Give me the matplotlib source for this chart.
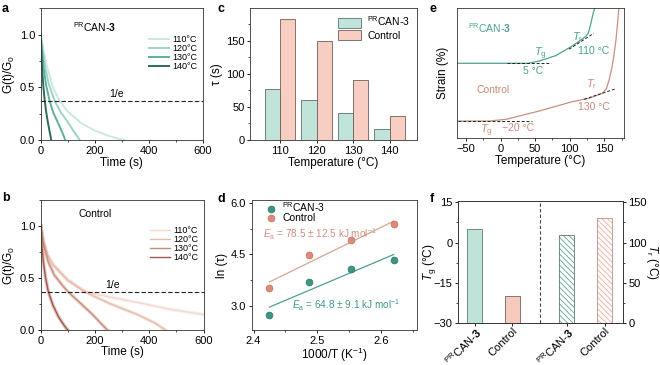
import numpy as np
import matplotlib
matplotlib.use('Agg')
import matplotlib.pyplot as plt
from matplotlib.ticker import MultipleLocator

plt.rcParams['font.family'] = ['Liberation Sans', 'DejaVu Sans']
plt.rcParams['mathtext.fontset'] = 'custom'
plt.rcParams['mathtext.rm'] = 'Liberation Sans'
plt.rcParams['mathtext.it'] = 'Liberation Sans:italic'
plt.rcParams['mathtext.bf'] = 'Liberation Sans:bold'
plt.rcParams['font.size'] = 8
plt.rcParams['hatch.linewidth'] = 0.6

# ---- data ----
temp_labels = ['110', '120', '130', '140']

# a: PRCAN-3 stress relaxation
a_t110 = [0, 10, 25, 45, 70, 100, 150, 200, 250, 290, 310]
a_g110 = [1.0, 0.85, 0.68, 0.50, 0.37, 0.27, 0.16, 0.09, 0.04, 0.01, 0.0]
a_t120 = [0, 8, 17, 30, 52, 75, 99, 120, 144]
a_g120 = [1.0, 0.84, 0.68, 0.53, 0.37, 0.26, 0.175, 0.09, 0.0]
a_t130 = [0, 5, 11, 20, 33, 45, 66, 80, 91]
a_g130 = [1.0, 0.84, 0.68, 0.52, 0.37, 0.27, 0.15, 0.07, 0.0]
a_t140 = [0, 2, 5, 10, 15, 20, 27, 33, 39]
a_g140 = [1.0, 0.86, 0.68, 0.50, 0.37, 0.27, 0.16, 0.08, 0.0]

# b: Control stress relaxation
b_t110 = [0, 10, 25, 45, 100, 167, 250, 356, 478, 600]
b_g110 = [1.0, 0.85, 0.72, 0.63, 0.48, 0.37, 0.32, 0.267, 0.20, 0.15]
b_t120 = [0, 10, 25, 45, 100, 161, 250, 356, 420, 460]
b_g120 = [1.0, 0.85, 0.72, 0.63, 0.48, 0.37, 0.26, 0.15, 0.07, 0.0]
b_t130 = [0, 10, 27, 50, 80, 100, 150, 191, 220, 246]
b_g130 = [1.0, 0.83, 0.66, 0.53, 0.43, 0.37, 0.25, 0.15, 0.07, 0.0]
b_t140 = [0, 4, 10, 18, 28, 45, 65, 85, 100]
b_g140 = [1.0, 0.82, 0.65, 0.50, 0.37, 0.24, 0.13, 0.05, 0.0]

# c: relaxation times
tau_pr = [77, 60, 41, 16]
tau_ctrl = [183, 150, 91, 36]

# d: Arrhenius
inv_T = [2.425, 2.487, 2.553, 2.620]
ln_tau_pr = [2.75, 3.70, 4.07, 4.33]
ln_tau_ctrl = [3.52, 4.48, 4.93, 5.38]
fit_x = [2.425, 2.620]
fit_pr = [2.97, 4.50]
fit_ctrl = [3.70, 5.47]

# e: strain vs temperature (arbitrary units)
e_T_pr = [-62, 40, 56, 80, 102, 112, 123, 127, 130, 133, 136]
e_s_pr = [57.7, 57.7, 59.5, 63.6, 70.5, 74.0, 78.2, 81.0, 87.0, 94.0, 100.0]
e_T_ctrl = [-62, -16, 8, 56, 104, 128, 147, 153, 157, 161, 164, 167, 169, 171]
e_s_ctrl = [13.3, 13.3, 14.6, 21.0, 28.2, 30.8, 34.6, 38.0, 44.9, 54.0, 64.1, 76.0, 87.2, 100.0]

# f: Tg / Tr
tg_vals = [5, -20]
tr_vals = [110, 130]
f_labels = [r'$^{\mathrm{PR}}$CAN-$\mathbf{3}$', 'Control',
            r'$^{\mathrm{PR}}$CAN-$\mathbf{3}$', 'Control']

teal = ['#cde8e1', '#9dd3c5', '#5db19e', '#2d6b5d']
pink = ['#f3dad1', '#e8bcac', '#c98c7d', '#a05a4f']
PR = r'$^{\mathrm{PR}}$CAN-$\mathbf{3}$'
PR_plain = r'$^{\mathrm{PR}}$CAN-3'


def style(ax):
    ax.tick_params(direction='out', length=2.5, width=0.6, labelsize=8, pad=1.5)
    ax.tick_params(which='minor', direction='out', length=1.5, width=0.5)
    for s in ax.spines.values():
        s.set_linewidth(0.6)
        s.set_color('#333333')


fig = plt.figure(figsize=(6.6, 3.65), dpi=100)

# ---- a ----
ax = fig.add_axes([0.0617, 0.6164, 0.2459, 0.3608])
curves = [(a_t110, a_g110), (a_t120, a_g120), (a_t130, a_g130), (a_t140, a_g140)]
for (t, g), c, lab in zip(curves, teal, temp_labels):
    ax.plot(t, g, color=c, lw=1.4, label=lab + '°C')
ax.axhline(1 / np.e, color='#222222', lw=0.8, ls=(0, (4, 2)))
ax.text(281, 0.39, '1/e', ha='center', va='bottom', fontsize=7.5)
ax.text(201, 1.075, PR, ha='center', va='center', fontsize=7.5)
ax.set_xlim(0, 600)
ax.set_ylim(0, 1.25)
ax.xaxis.set_major_locator(MultipleLocator(200))
ax.xaxis.set_minor_locator(MultipleLocator(100))
ax.yaxis.set_major_locator(MultipleLocator(0.5))
ax.yaxis.set_minor_locator(MultipleLocator(0.25))
ax.set_xlabel('Time (s)', fontsize=8.5, labelpad=1)
ax.set_ylabel('G(t)/G$_0$', fontsize=8.5, labelpad=2)
ax.legend(loc='upper right', bbox_to_anchor=(1.0, 0.84), frameon=False, fontsize=6.5,
          handlelength=2.2, labelspacing=0.0, handletextpad=0.4, borderaxespad=0.2)
style(ax)

# ---- b ----
ax = fig.add_axes([0.0617, 0.0955, 0.2467, 0.3562])
curves = [(b_t110, b_g110), (b_t120, b_g120), (b_t130, b_g130), (b_t140, b_g140)]
for (t, g), c, lab in zip(curves, pink, temp_labels):
    ax.plot(t, g, color=c, lw=2.6, alpha=0.35)
    ax.plot(t, g, color=c, lw=1.0, label=lab + '°C')
ax.axhline(1 / np.e, color='#222222', lw=0.8, ls=(0, (4, 2)))
ax.text(265, 0.39, '1/e', ha='center', va='bottom', fontsize=7.5)
ax.text(201, 1.12, 'Control', ha='center', va='center', fontsize=7.5)
ax.set_xlim(0, 600)
ax.set_ylim(0, 1.25)
ax.xaxis.set_major_locator(MultipleLocator(200))
ax.xaxis.set_minor_locator(MultipleLocator(100))
ax.yaxis.set_major_locator(MultipleLocator(0.5))
ax.yaxis.set_minor_locator(MultipleLocator(0.25))
ax.set_xlabel('Time (s)', fontsize=8.5, labelpad=0)
ax.set_ylabel('G(t)/G$_0$', fontsize=8.5, labelpad=2)
ax.legend(loc='upper right', bbox_to_anchor=(1.0, 0.84), frameon=False, fontsize=6.5,
          handlelength=2.2, labelspacing=0.0, handletextpad=0.4, borderaxespad=0.2)
style(ax)

# ---- c ----
ax = fig.add_axes([0.3788, 0.6164, 0.2526, 0.3608])
x = np.arange(len(temp_labels))
w = 0.42
ax.bar(x - w / 2, tau_pr, w, color='#c0e4da', edgecolor='#5f6f6a', lw=0.6, label=PR_plain)
ax.bar(x + w / 2, tau_ctrl, w, color='#f8cdc2', edgecolor='#6f5f5b', lw=0.6, label='Control')
ax.set_xticks(x)
ax.set_xticklabels(temp_labels)
ax.set_xlim(-0.82, 3.74)
ax.set_ylim(0, 199)
ax.yaxis.set_major_locator(MultipleLocator(50))
ax.yaxis.set_minor_locator(MultipleLocator(25))
ax.set_xlabel('Temperature (°C)', fontsize=8.5, labelpad=1)
ax.set_ylabel('τ (s)', fontsize=8.5, labelpad=2)
ax.legend(loc='upper right', frameon=False, fontsize=7.5, handlelength=2.2, handleheight=1.1,
          labelspacing=0.2, handletextpad=0.6, borderaxespad=0.2)
style(ax)

# ---- d ----
ax = fig.add_axes([0.3813, 0.0955, 0.2500, 0.3562])
ax.plot(fit_x, fit_ctrl, color='#d9a493', lw=0.9)
ax.plot(fit_x, fit_pr, color='#4f9f8c', lw=0.9)
ax.scatter(inv_T, ln_tau_pr, s=24, color='#3a9683', edgecolor='#2c7565', lw=0.5, zorder=3,
           label=PR_plain)
ax.scatter(inv_T, ln_tau_ctrl, s=24, color='#e08b79', edgecolor='#c06c5b', lw=0.5, zorder=3,
           label='Control')
ax.text(2.415, 5.1, r'$E_{\mathrm{a}}$ = 78.5 ± 12.5 kJ mol$^{-1}$', color='#d08f7e', fontsize=7.2,
        va='center')
ax.text(2.46, 3.02, r'$E_{\mathrm{a}}$ = 64.8 ± 9.1 kJ mol$^{-1}$', color='#3f9a86', fontsize=7.2,
        va='center')
ax.set_xlim(2.397, 2.656)
ax.set_ylim(2.3, 6.08)
ax.xaxis.set_major_locator(MultipleLocator(0.1))
ax.xaxis.set_minor_locator(MultipleLocator(0.05))
ax.yaxis.set_major_locator(MultipleLocator(1.5))
ax.yaxis.set_minor_locator(MultipleLocator(0.75))
ax.set_xlabel('1000/T (K$^{-1}$)', fontsize=8.5, labelpad=0)
ax.set_ylabel('ln (τ)', fontsize=8.5, labelpad=2)
ax.legend(loc='upper left', bbox_to_anchor=(0.02, 1.04), frameon=False, fontsize=7.5,
          handletextpad=0.1, labelspacing=-0.1, borderaxespad=0.1)
style(ax)

# ---- e ----
ax = fig.add_axes([0.6929, 0.6211, 0.2520, 0.3562])
ax.plot(e_T_pr, e_s_pr, color='#4aa390', lw=0.9)
ax.plot(e_T_ctrl, e_s_ctrl, color='#c8917f', lw=0.9)
dash = dict(color='#222222', lw=0.7, ls=(0, (3, 2)))
ax.plot([10, 73], [57.7, 57.7], **dash)
ax.plot([99, 135], [68.5, 80.8], **dash)
ax.plot([-61, 46], [13.3, 13.3], **dash)
ax.plot([121, 166], [30.0, 38.0], **dash)
tc, pc = '#4aa390', '#c98a78'
ax.text(-47, 85, PR, color=tc, fontsize=7.5, va='center', ha='left')
ax.text(57, 65, r'$T_{\mathrm{g}}$', color=tc, fontsize=8, ha='center', va='center')
ax.text(47, 52, '5 °C', color=tc, fontsize=7.5, ha='center', va='center')
ax.text(112, 77.5, r'$T_{\mathrm{r}}$', color=tc, fontsize=8, ha='center', va='center')
ax.text(134, 67.5, '110 °C', color=tc, fontsize=7.5, ha='center', va='center')
ax.text(-10, 37.2, 'Control', color=pc, fontsize=7.5, ha='center', va='center')
ax.text(132, 41.5, r'$T_{\mathrm{r}}$', color=pc, fontsize=8, ha='center', va='center')
ax.text(135, 24, '130 °C', color=pc, fontsize=7.5, ha='center', va='center')
ax.text(-21, 5.5, r'$T_{\mathrm{g}}$', color=pc, fontsize=8, ha='center', va='center')
ax.text(26, 8.2, '−20 °C', color=pc, fontsize=7.5, ha='center', va='center')
ax.set_xlim(-62.5, 178)
ax.set_ylim(0, 100)
ax.set_yticks([])
ax.xaxis.set_major_locator(MultipleLocator(50))
ax.xaxis.set_minor_locator(MultipleLocator(25))
ax.set_xlabel('Temperature (°C)', fontsize=8.5, labelpad=1)
ax.set_ylabel('Strain (%)', fontsize=8.5, labelpad=6)
style(ax)

# ---- f ----
ax = fig.add_axes([0.6944, 0.115, 0.2495, 0.3343])
ax2 = ax.twinx()
pos = [0, 1, 2.45, 3.45]
bw = 0.4
ax.bar(pos[:2], np.array(tg_vals) + 30, bw, bottom=-30, color=['#bfe3d8', '#f6c9bd'],
       edgecolor=['#5e7a72', '#7a625b'], lw=0.6)
ax2.bar(pos[2:], tr_vals, bw, color='white', edgecolor=['#5aa593', '#efaa9a'], hatch='\\\\\\\\\\\\', lw=0)
ax2.bar(pos[2:], tr_vals, bw, fill=False, edgecolor=['#5e7a72', '#b59088'], lw=0.6)
ax.axvline(1.72, color='#444444', lw=0.8, ls=(0, (3, 2)))
ax.set_xlim(-0.44, 3.94)
ax.set_ylim(-30, 15.5)
ax2.set_ylim(0, 151.7)
ax.set_xticks(pos)
ax.set_xticklabels(f_labels, rotation=45, ha='right', rotation_mode='anchor', fontsize=6.3)
ax.yaxis.set_major_locator(MultipleLocator(15))
ax.yaxis.set_minor_locator(MultipleLocator(7.5))
ax2.yaxis.set_major_locator(MultipleLocator(50))
ax2.yaxis.set_minor_locator(MultipleLocator(25))
ax.set_ylabel(r'$T_{\mathrm{g}}$ (°C)', fontsize=8.5)
ax.yaxis.set_label_coords(-0.125, 0.5)
ax2.set_ylabel(r'$T_{\mathrm{r}}$ (°C)', fontsize=8.5, rotation=270, labelpad=9)
style(ax)
style(ax2)
ax.tick_params(axis='x', pad=0, length=2)

# panel letters
for lab, (px, py) in zip('abcdef', [(2, 3), (2, 192), (218, 3), (218, 193), (430, 3), (430, 193)]):
    fig.text(px / 660, 1 - py / 365, lab, fontsize=9, fontweight='bold', va='top', ha='left')

fig.savefig('out.png', dpi=100)
